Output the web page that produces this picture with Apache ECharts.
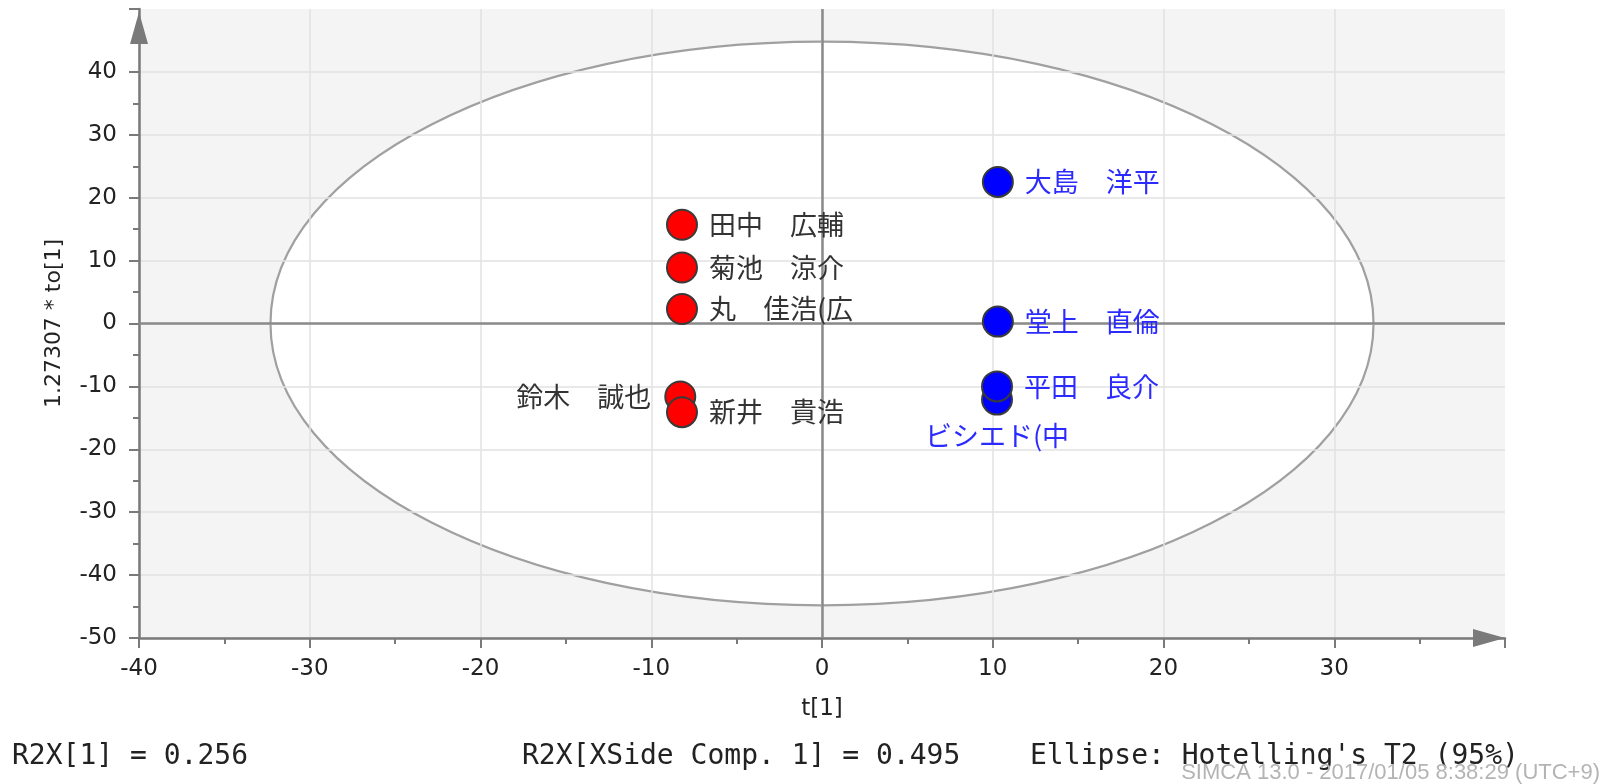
<!DOCTYPE html>
<html>
<head>
<meta charset="utf-8">
<script src="https://cdn.jsdelivr.net/npm/echarts@6/dist/echarts.min.js"></script>
<style>
html,body{margin:0;padding:0;background:#fff;}
#chart{width:1608px;height:784px;}
</style>
</head>
<body>
<div id="chart"></div>
<script>
// ---- data ----
const redNames = ['田中　広輔', '菊池　涼介', '丸　佳浩(広', '鈴木　誠也', '新井　貴浩'];
const redT     = [-8.2, -8.2, -8.2, -8.3, -8.2];
const redTo    = [15.7, 8.9, 2.3, -11.6, -14.1];

const blueNames = ['大島　洋平', '堂上　直倫', 'ビシエド(中', '平田　良介'];
const blueT     = [10.3, 10.3, 10.25, 10.25];
const blueTo    = [22.5, 0.3, -12.1, -10.0];

const ellipseRadii = [32.3, 44.8];   // Hotelling's T2 (95%) semi-axes
const xRange = [-40, 40];
const yRange = [-50, 50];
const tickStep = 10;

const footerLeft   = 'R2X[1] = 0.256';
const footerMid    = 'R2X[XSide Comp. 1] = 0.495';
const footerRight  = "Ellipse: Hotelling's T2 (95%)";
const footerStamp  = 'SIMCA 13.0 - 2017/01/05 8:38:29 (UTC+9)';
const xName = 't[1]';
const yName = '1.27307 * to[1]';

// ---- styling helpers ----
const labelOverrides = {
  '鈴木　誠也': { position: 'left', distance: 13 },
  'ビシエド(中': { position: 'bottom', distance: 7 }
};
function buildPoints(names, xs, ys) {
  return names.map((n, i) => {
    const item = { name: n, value: [xs[i], ys[i]] };
    if (labelOverrides[n]) item.label = Object.assign({}, labelOverrides[n]);
    return item;
  });
}

const axisColor = '#7a7a7a';
const labelFont = 'DejaVu Sans';

function makeAxis(range, extra) {
  return Object.assign({
    type: 'value',
    min: range[0],
    max: range[1],
    interval: tickStep,
    z: 2,
    axisLine: {
      show: true,
      onZero: false,
      lineStyle: { color: axisColor, width: 2.5 },
      symbol: ['none', 'triangle']
    },
    axisTick: { show: true, inside: false, length: 10, lineStyle: { color: axisColor, width: 2 } },
    minorTick: { show: true, splitNumber: 2, length: 6, lineStyle: { color: axisColor, width: 2 } },
    splitLine: { show: true, showMaxLine: false, lineStyle: { color: '#e2e2e2', width: 1.5 } },
    minorSplitLine: { show: false },
    axisLabel: { color: '#222', fontFamily: labelFont, fontSize: 23, showMaxLabel: false },
    nameLocation: 'middle',
    nameTextStyle: { color: '#222', fontFamily: labelFont, fontSize: 22 }
  }, extra);
}

const chart = echarts.init(document.getElementById('chart'), null, { renderer: 'canvas' });

const xAxis = makeAxis(xRange, { name: xName, nameGap: 60 });
xAxis.axisLine.symbolSize = [18, 32];
xAxis.axisLine.symbolOffset = [0, -16];
xAxis.axisLabel.margin = 20;
xAxis.nameTextStyle.fontSize = 23;

const yAxis = makeAxis(yRange, { name: yName, nameGap: 74 });
yAxis.axisLine.symbolSize = [18, 32];
yAxis.axisLine.symbolOffset = [0, -19];
yAxis.axisLabel.margin = 22;

const scatterBase = {
  type: 'scatter',
  symbol: 'circle',
  symbolSize: 30,
  z: 4,
  label: {
    show: true,
    position: 'right',
    distance: 11,
    formatter: p => p.name,
    fontFamily: 'Noto Sans CJK JP',
    fontSize: 27
  },
  emphasis: { disabled: true }
};

chart.setOption({
  animation: false,
  backgroundColor: '#ffffff',
  grid: {
    left: 139, right: 103, top: 9, bottom: 146,
    show: true, backgroundColor: '#f4f4f4', borderWidth: 0
  },
  xAxis: xAxis,
  yAxis: yAxis,
  graphic: [
    { type: 'text', left: 12, top: 743, style: { text: footerLeft, font: '28px "DejaVu Sans Mono"', fill: '#222' } },
    { type: 'text', left: 522, top: 743, style: { text: footerMid, font: '28px "DejaVu Sans Mono"', fill: '#222' } },
    { type: 'text', left: 1030, top: 743, style: { text: footerRight, font: '28px "DejaVu Sans Mono"', fill: '#222' } },
    { type: 'text', right: 8, top: 762, style: { text: footerStamp, font: '22px "Liberation Sans"', fill: '#b4b4b4' } }
  ],
  series: [
    {
      type: 'custom',
      z: 1,
      silent: true,
      data: [[0, 0]],
      renderItem: function (params, api) {
        const c = api.coord([api.value(0), api.value(1)]);
        const s = api.size(ellipseRadii);
        return {
          type: 'ellipse',
          shape: { cx: c[0], cy: c[1], rx: s[0], ry: s[1] },
          style: { fill: '#ffffff', stroke: '#a0a0a0', lineWidth: 2.2 }
        };
      }
    },
    {
      type: 'line',
      data: [],
      z: 3,
      markLine: {
        silent: true,
        z: 3,
        symbol: 'none',
        label: { show: false },
        lineStyle: { color: '#8a8a8a', width: 2.5, type: 'solid' },
        data: [{ xAxis: 0 }, { yAxis: 0 }]
      }
    },
    Object.assign({}, scatterBase, {
      name: 'red',
      data: buildPoints(redNames, redT, redTo),
      itemStyle: { color: '#ff0000', borderColor: '#3a3a3a', borderWidth: 2, opacity: 1 },
      label: Object.assign({}, scatterBase.label, { color: '#333333' })
    }),
    Object.assign({}, scatterBase, {
      name: 'blue',
      data: buildPoints(blueNames, blueT, blueTo),
      itemStyle: { color: '#0000ff', borderColor: '#3a3a3a', borderWidth: 2, opacity: 1 },
      label: Object.assign({}, scatterBase.label, { color: '#2b2bff' })
    })
  ]
});
</script>
</body>
</html>
